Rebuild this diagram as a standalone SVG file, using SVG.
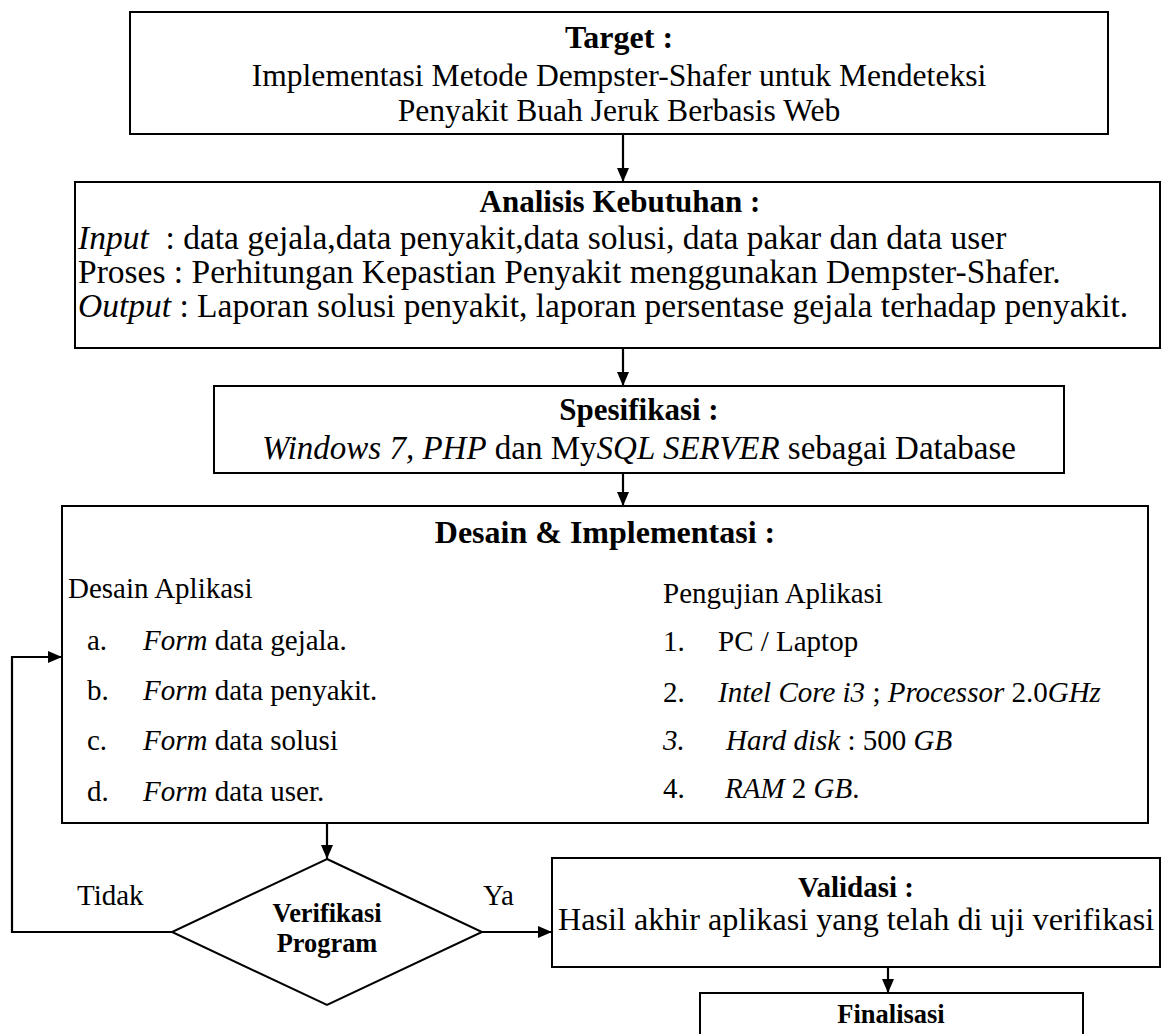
<svg xmlns="http://www.w3.org/2000/svg" width="1163" height="1034" viewBox="0 0 1163 1034">
<defs>
<marker id="ah" markerUnits="userSpaceOnUse" markerWidth="14" markerHeight="12" refX="14" refY="6" orient="auto"><path d="M0,0 L14,6 L0,12 z" fill="#000"/></marker>
<style>
text{font-family:"Liberation Serif","Times New Roman",serif;fill:#000;white-space:pre}
.box{fill:#fff;stroke:#000;stroke-width:2}
.conn{fill:none;stroke:#000;stroke-width:2.2}
.b{font-weight:bold}
.i{font-style:italic}
.m{text-anchor:middle}
.tb{font-size:31.6px}
.ab{font-size:33.5px}
.li{font-size:29px}
</style>
</defs>
<rect width="1163" height="1034" fill="#fff"/>

<g id="target">
<rect class="box" x="130" y="12" width="978" height="122"/>
<text class="b m" x="619" y="48" style="font-size:32px">Target :</text>
<text class="m tb" x="619" y="86">Implementasi Metode Dempster-Shafer untuk Mendeteksi</text>
<text class="m tb" x="619" y="121">Penyakit Buah Jeruk Berbasis Web</text>
</g>

<g id="analisis">
<rect class="box" x="75" y="182" width="1085" height="166"/>
<text class="b m" x="620" y="212" style="font-size:31px">Analisis Kebutuhan :</text>
<text class="ab" x="78" y="249"><tspan class="i">Input</tspan>  : data gejala,data penyakit,data solusi, data pakar dan data user</text>
<text class="ab" x="78" y="283">Proses : Perhitungan Kepastian Penyakit menggunakan Dempster-Shafer.</text>
<text class="ab" x="78" y="317"><tspan class="i">Output</tspan> : Laporan solusi penyakit, laporan persentase gejala terhadap penyakit.</text>
</g>

<g id="spesifikasi">
<rect class="box" x="214" y="386" width="850" height="87"/>
<text class="b m" x="639" y="420" style="font-size:31px">Spesifikasi :</text>
<text class="m" x="639" y="459" style="font-size:33px"><tspan class="i">Windows 7, PHP</tspan> dan My<tspan class="i">SQL SERVER</tspan> sebagai Database</text>
</g>

<g id="desain">
<rect class="box" x="62" y="506" width="1086" height="317"/>
<text class="b m" x="605" y="543" style="font-size:32px">Desain &amp; Implementasi :</text>
<text class="li" x="68" y="598">Desain Aplikasi</text>
<text class="li" x="87" y="650">a.</text>
<text class="li" x="143" y="650"><tspan class="i">Form</tspan> data gejala.</text>
<text class="li" x="87" y="700">b.</text>
<text class="li" x="143" y="700"><tspan class="i">Form</tspan> data penyakit.</text>
<text class="li" x="87" y="750">c.</text>
<text class="li" x="143" y="750"><tspan class="i">Form</tspan> data solusi</text>
<text class="li" x="87" y="801">d.</text>
<text class="li" x="143" y="801"><tspan class="i">Form</tspan> data user.</text>
<text class="li" x="663" y="603">Pengujian Aplikasi</text>
<text class="li" x="663" y="651">1.</text>
<text class="li" x="718" y="651">PC / Laptop</text>
<text class="li" x="663" y="702">2.</text>
<text class="li" x="718" y="702"><tspan class="i">Intel Core i3</tspan> ; <tspan class="i">Processor</tspan> 2.0<tspan class="i">GHz</tspan></text>
<text class="li i" x="663" y="750">3.</text>
<text class="li" x="726" y="750"><tspan class="i">Hard disk</tspan> : 500 <tspan class="i">GB</tspan></text>
<text class="li" x="663" y="798">4.</text>
<text class="li" x="725" y="798"><tspan class="i">RAM</tspan> 2 <tspan class="i">GB</tspan>.</text>
</g>

<g id="verifikasi">
<polygon class="box" points="327,859 482,932 327,1005 172,932"/>
<text class="b m" x="327" y="922" style="font-size:26.4px">Verifikasi</text>
<text class="b m" x="327" y="952" style="font-size:26.4px">Program</text>
</g>

<g id="validasi">
<rect class="box" x="552" y="858" width="608" height="109"/>
<text class="b m" x="856" y="897" style="font-size:29px">Validasi :</text>
<text class="m" x="856" y="930" style="font-size:32.2px">Hasil akhir aplikasi yang telah di uji verifikasi</text>
</g>

<g id="finalisasi">
<rect class="box" x="700" y="993" width="383" height="60"/>
<text class="b m" x="891" y="1023" style="font-size:26.5px">Finalisasi</text>
</g>

<g id="connectors">
<line class="conn" x1="623" y1="134" x2="623" y2="182" marker-end="url(#ah)"/>
<line class="conn" x1="623" y1="348" x2="623" y2="386" marker-end="url(#ah)"/>
<line class="conn" x1="623" y1="473" x2="623" y2="506" marker-end="url(#ah)"/>
<line class="conn" x1="327" y1="823" x2="327" y2="859" marker-end="url(#ah)"/>
<polyline class="conn" points="172,932 12,932 12,657 62,657" marker-end="url(#ah)"/>
<line class="conn" x1="482" y1="932" x2="552" y2="932" marker-end="url(#ah)"/>
<line class="conn" x1="888" y1="967" x2="888" y2="993" marker-end="url(#ah)"/>
<text class="li" x="77" y="905">Tidak</text>
<text class="li" x="483" y="905">Ya</text>
</g>
</svg>
